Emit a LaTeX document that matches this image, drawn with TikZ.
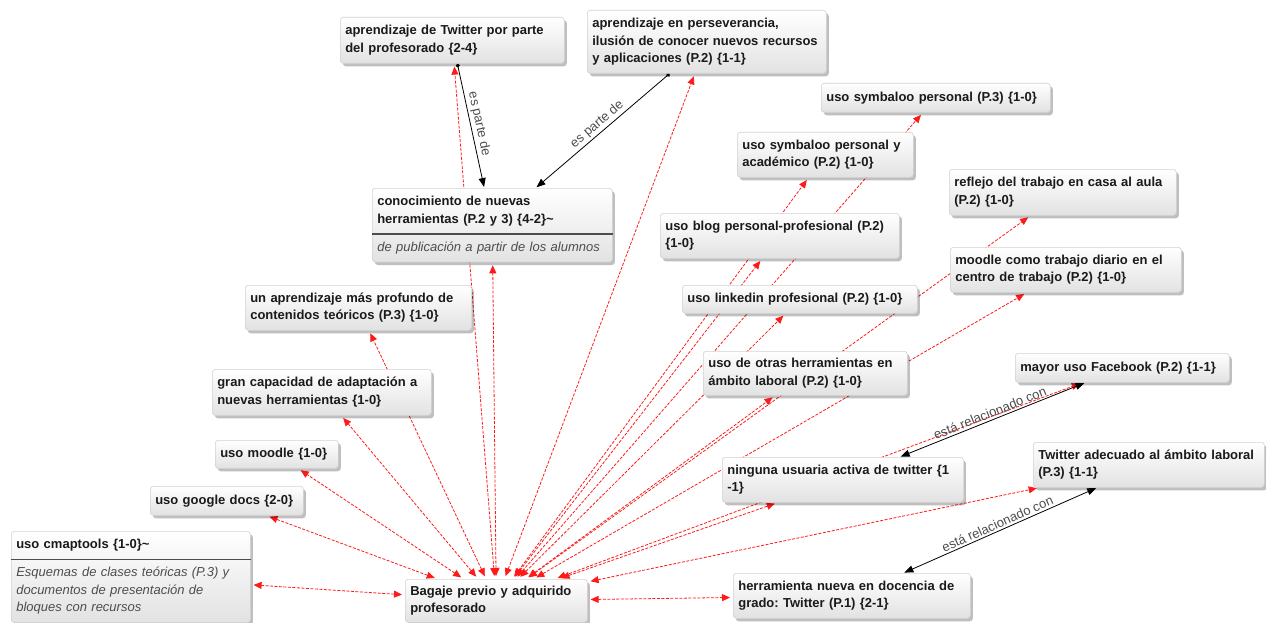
\documentclass[tikz,border=0pt]{standalone}
\usepackage{fontspec}
\setmainfont{Liberation Sans}
\usepackage{xcolor}
\usetikzlibrary{arrows.meta,positioning,shadows,shapes.multipart}
\definecolor{cmapred}{HTML}{FF1A1A}
\definecolor{cmaptext}{HTML}{1A1A1A}
\definecolor{cmapgray}{HTML}{4D4D4D}
\definecolor{cmapedge}{HTML}{D2D2D2}
\definecolor{cmapfill}{HTML}{E2E2E2}
\newcommand{\mapfont}{\fontsize{13}{17.5}\selectfont}
\newcommand{\notestyle}{\mdseries\itshape\color{cmapgray}}
\frenchspacing
\pgfdeclarelayer{background}
\pgfsetlayers{background,main}
\tikzset{
  concept/.style={anchor=north west, draw=cmapedge, line width=0.6pt, rounded corners=3pt,
    top color=white, bottom color=cmapfill,
    drop shadow={shadow xshift=2.5pt, shadow yshift=-3pt, fill=black, opacity=0.25},
    text=cmaptext, font=\mapfont\bfseries, align=left, inner xsep=5pt, inner ysep=4pt},
  splitconcept/.style={concept, rectangle split, rectangle split parts=2, inner ysep=5pt},
  hiddenlink/.style={draw=cmapred, line width=0.8pt, dash pattern=on 3pt off 1.5pt,
    arrows={Triangle[length=8pt,width=7pt]-Triangle[length=8pt,width=7pt]},
    shorten <=3pt, shorten >=3pt},
  partlink/.style={draw=black, line width=0.8pt,
    arrows={Circle[length=4pt]-Triangle[length=9pt,width=7pt]}, shorten >=1pt},
  relatedlink/.style={draw=black, line width=0.8pt,
    arrows={Triangle[length=9pt,width=7pt]-Triangle[length=9pt,width=7pt]},
    shorten <=1pt, shorten >=1pt},
  linklabel/.style={text=cmapgray, font=\mapfont, inner sep=2pt},
}

\begin{document}
\begin{tikzpicture}[x=1pt,y=-1pt]
\useasboundingbox (0,0) rectangle (1266,623);
% concepts, left half
\node[concept, text width=214pt, minimum height=46pt] (t1) at (340,17)
  {aprendizaje de Twitter por parte\\del profesorado \{2-4\}};
\node[concept, text width=229pt, minimum height=63pt] (t2) at (587,10)
  {aprendizaje en perseverancia,\\ilusión de conocer nuevos recursos\\y aplicaciones (P.2) \{1-1\}};
\node[splitconcept, text width=230pt] (con) at (372,188)
  {\strut conocimiento de nuevas\\\strut herramientas (P.2 y 3) \{4-2\}\textasciitilde
   \nodepart{two}\notestyle\strut de publicación a partir de los alumnos};
\node[concept, text width=216pt, minimum height=45pt] (prof) at (245,285)
  {un aprendizaje más profundo de\\contenidos teóricos (P.3) \{1-0\}};
\node[concept, text width=209pt, minimum height=46pt] (adap) at (212,369)
  {gran capacidad de adaptación a\\nuevas herramientas \{1-0\}};
\node[concept, text width=113pt, minimum height=28pt] (moo) at (215,440)
  {uso moodle \{1-0\}};
\node[concept, text width=143pt, minimum height=29pt] (gdocs) at (150,486)
  {uso google docs \{2-0\}};
\node[splitconcept, text width=229pt] (cmap) at (11,531)
  {\strut uso cmaptools \{1-0\}\textasciitilde
   \nodepart{two}\notestyle\strut Esquemas de clases teóricas (P.3) y\\\strut documentos de presentación de\\\strut bloques con recursos};
\node[concept, text width=172pt, minimum height=43pt] (bag) at (405,579)
  {Bagaje previo y adquirido\\profesorado};
% concepts, right half
\node[concept, text width=227pt, minimum height=45pt] (herr) at (733,573)
  {herramienta nueva en docencia de\\grado: Twitter (P.1) \{2-1\}};
\node[concept, text width=221pt, minimum height=45pt] (tadec) at (1033,442)
  {Twitter adecuado al ámbito laboral\\(P.3) \{1-1\}};
\node[concept, text width=204pt, minimum height=29pt] (fb) at (1015,353)
  {mayor uso Facebook (P.2) \{1-1\}};
\node[concept, text width=231pt, minimum height=45pt] (ning) at (722,457)
  {ninguna usuaria activa de twitter \{1\\-1\}};
\node[concept, text width=194pt, minimum height=44pt] (otras) at (703,351)
  {uso de otras herramientas en\\ámbito laboral (P.2) \{1-0\}};
\node[concept, text width=225pt, minimum height=28pt] (lnk) at (682,285)
  {uso linkedin profesional (P.2) \{1-0\}};
\node[concept, text width=229pt, minimum height=45pt] (blog) at (660,213)
  {uso blog personal-profesional (P.2)\\\{1-0\}};
\node[concept, text width=166pt, minimum height=45pt] (acad) at (737,132)
  {uso symbaloo personal y\\académico (P.2) \{1-0\}};
\node[concept, text width=219pt, minimum height=29pt] (symb) at (821,83)
  {uso symbaloo personal (P.3) \{1-0\}};
\node[concept, text width=217pt, minimum height=46pt] (refl) at (949,169)
  {reflejo del trabajo en casa al aula\\(P.2) \{1-0\}};
\node[concept, text width=221pt, minimum height=45pt] (mdia) at (950,247)
  {moodle como trabajo diario en el\\centro de trabajo (P.2) \{1-0\}};
% dividers of the two annotated concepts
\draw[cmapgray, line width=1.2pt] (con.text split west) -- (con.text split east);
\draw[cmapgray, line width=1.2pt] (cmap.text split west) -- (cmap.text split east);
\begin{pgfonlayer}{background}
% hidden links, all from the Bagaje concept
\draw[hiddenlink] (bag) -- (cmap);
\draw[hiddenlink] (bag) -- (gdocs);
\draw[hiddenlink] (bag) -- (moo);
\draw[hiddenlink] (bag) -- (adap);
\draw[hiddenlink] (bag) -- (prof);
\draw[hiddenlink] (bag) -- (t1);
\draw[hiddenlink] (bag) -- (con);
\draw[hiddenlink] (bag) -- (t2);
\draw[hiddenlink] (bag) -- (symb);
\draw[hiddenlink] (bag) -- (acad);
\draw[hiddenlink] (bag) -- (blog);
\draw[hiddenlink] (bag) -- (lnk);
\draw[hiddenlink] (bag) -- (refl);
\draw[hiddenlink] (bag) -- (mdia);
\draw[hiddenlink] (bag) -- (otras);
\draw[hiddenlink] (bag) -- (ning);
\draw[hiddenlink] (bag) -- (fb);
\draw[hiddenlink] (bag) -- (tadec);
\draw[hiddenlink] (bag) -- (herr);
% named links
\draw[partlink] (t1) -- (con) node[midway, sloped, above, linklabel] {es parte de};
\draw[partlink] (t2) -- (con) node[midway, sloped, above, linklabel] {es parte de};
\draw[relatedlink] (ning) -- (fb) node[midway, sloped, above, linklabel] {está relacionado con};
\draw[relatedlink] (herr) -- (tadec) node[midway, sloped, above, linklabel] {está relacionado con};
\end{pgfonlayer}
\end{tikzpicture}
\end{document}
